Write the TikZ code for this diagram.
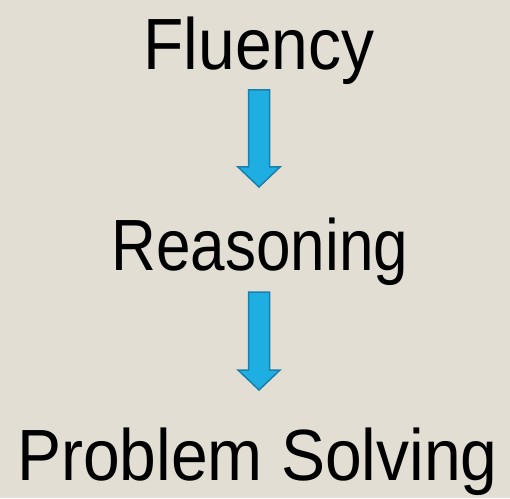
\documentclass[tikz,border=0pt]{standalone}
\usepackage{fontspec}
\setmainfont{Liberation Sans}
\usepackage{tikz}
\usetikzlibrary{calc}

\definecolor{bgbeige}{HTML}{E3DED3}
\definecolor{arrowfill}{HTML}{1EAEE2}
\definecolor{arrowedge}{HTML}{1A80AA}

\newcommand{\bigword}[2][1]{\scalebox{#1}[1.1]{#2}}

\begin{document}
\begin{tikzpicture}[
        x=1pt, y=1pt,
        word/.style={anchor=base, inner sep=0pt, text=black, font=\fontsize{66}{70}\selectfont},
        bigarrow/.style={draw=arrowedge, fill=arrowfill, line width=1.5pt, line join=miter,
        to path={let \p1=(\tikztostart), \p2=(\tikztotarget) in
            (\x1-10.5pt,\y1) -- (\x1+10.5pt,\y1) -- (\x1+10.5pt,\y2+20pt) -- (\x1+21pt,\y2+20pt)
            -- (\x2,\y2) -- (\x1-21pt,\y2+20pt) -- (\x1-10.5pt,\y2+20pt) -- cycle}}
    ]

    % --- BACKGROUND ---
    \fill[bgbeige] (0,0) rectangle (510,498);
    \useasboundingbox (0,0) rectangle (510,498);

    % --- WORDS ---
    \node (flu) [word] at (259,428) {\bigword{Fluency}};
    \node (rea) [word] at (260,227) {\bigword[0.94]{Reasoning}};
    \node (pro) [word] at (257.5,18) {\bigword{Problem Solving}};

    % --- ARROW ENDS ---
    \coordinate (a1top) at (259,408);
    \coordinate (a1tip) at (259,311);
    \coordinate (a2top) at (259,206);
    \coordinate (a2tip) at (259,108);

    % --- ARROWS ---
    \draw [bigarrow] (a1top) to (a1tip);
    \draw [bigarrow] (a2top) to (a2tip);

\end{tikzpicture}
\end{document}
